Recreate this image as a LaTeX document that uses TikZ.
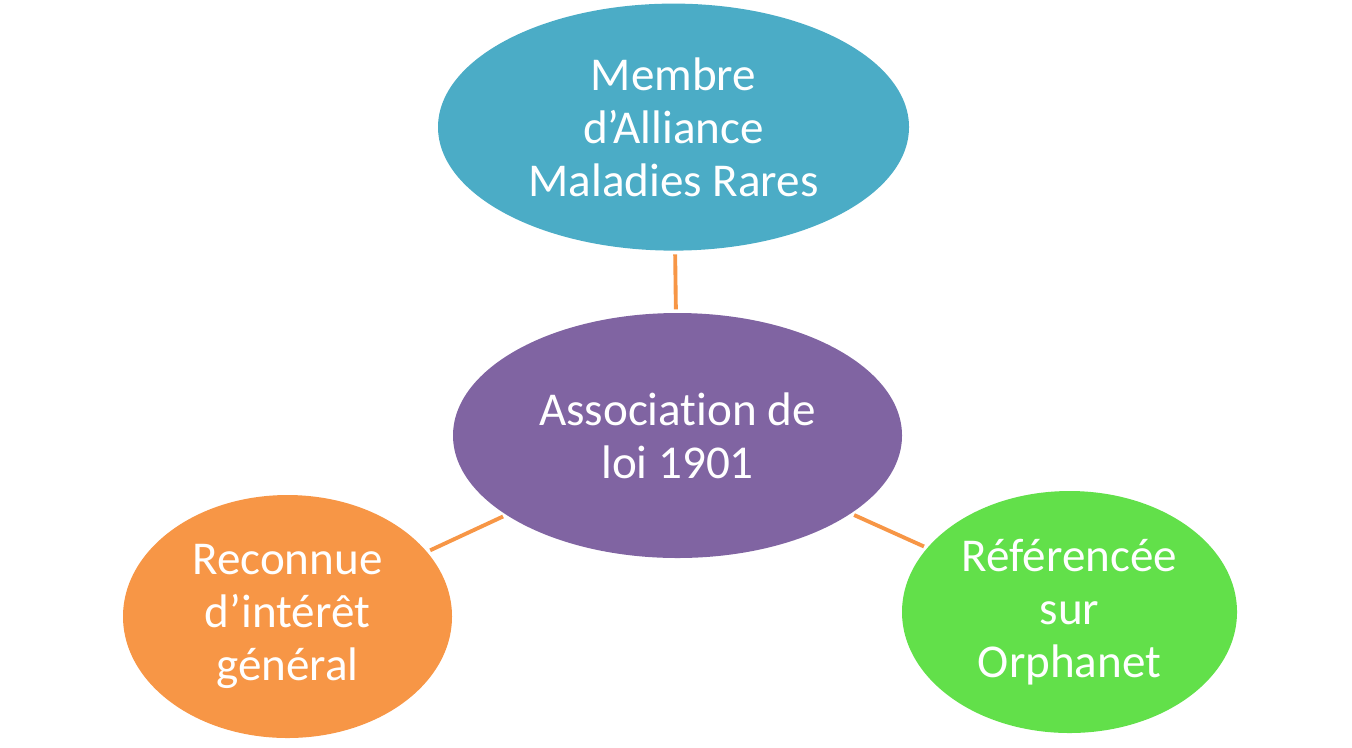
\documentclass[tikz,border=0pt]{standalone}
\usepackage{fontspec}
\setmainfont[Ligatures=NoCommon]{Carlito}
\usepackage{tikz}
\usetikzlibrary{shapes.geometric,positioning}
\definecolor{amrteal}{HTML}{4BACC6}
\definecolor{amrpurple}{HTML}{8064A2}
\definecolor{amrorange}{HTML}{F79646}
\definecolor{amrgreen}{HTML}{62E04A}
\tikzstyle{bubble} = [ellipse, inner sep=0pt, text=white, align=center,
    font=\fontsize{13.4}{15.1}\selectfont]
\tikzstyle{link} = [line width=1.1pt, amrorange, shorten <=0.03cm, shorten >=0.03cm]

\begin{document}
\begin{tikzpicture}
\useasboundingbox (0,0) rectangle (13.52,-7.47);
\node[bubble, fill=amrpurple, minimum width=4.49cm, minimum height=2.45cm] (assoc) at (6.775,-4.355) {Association de\\loi 1901};
\node[bubble, fill=amrteal, minimum width=4.71cm, minimum height=2.47cm, above=0.61cm of assoc, xshift=-0.04cm] (alliance) {Membre\\d’Alliance\\Maladies Rares};
\node[bubble, fill=amrorange, minimum width=3.29cm, minimum height=2.43cm] (interet) at (2.875,-6.165) {Reconnue\\d’intérêt\\général};
\node[bubble, fill=amrgreen, minimum width=3.35cm, minimum height=2.42cm] (orphanet) at (10.695,-6.12) {Référencée\\sur\\Orphanet};

\draw[link] (alliance) -- (assoc);
\draw[link] (assoc) -- (interet);
\draw[link] (assoc) -- (orphanet);
\end{tikzpicture}
\end{document}
